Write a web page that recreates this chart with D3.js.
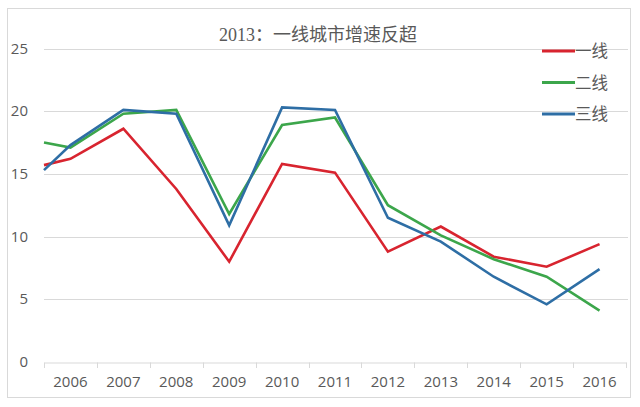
<!DOCTYPE html>
<html><head><meta charset="utf-8">
<script src="https://cdn.jsdelivr.net/npm/d3@7"></script>
<style>body{margin:0;background:#fff}svg{display:block}</style>
</head><body>
<script>
const categories = ["2006","2007","2008","2009","2010","2011","2012","2013","2014","2015","2016"];
// x positions of points: a starting point at the left edge, then each year
const xPoints = [2005.5,2006,2007,2008,2009,2010,2011,2012,2013,2014,2015,2016];
const tier1 = [15.7,16.2,18.6,13.8,8.0,15.8,15.1,8.8,10.8,8.4,7.6,9.4];
const tier2 = [17.5,17.1,19.8,20.1,11.8,18.9,19.5,12.5,10.1,8.2,6.8,4.1];
const tier3 = [15.3,17.3,20.1,19.8,10.9,20.3,20.1,11.5,9.6,6.8,4.6,7.4];
const seriesNames = ["一线","二线","三线"];
const seriesColors = ["#d8242f","#3ca64b","#2e6ea5"];
const yTicks = [0,5,10,15,20,25];
const title = "2013：一线城市增速反超";

(function(){
const W=640,H=407;
const svg=d3.select("body").append("svg").attr("width",W).attr("height",H);
svg.append("rect").attr("x",7.5).attr("y",8.5).attr("width",623).attr("height",389)
  .attr("fill","#fff").attr("stroke","#d9d9d9");

const pl=44,pr=626,pt=48.5,pb=362;
const y=d3.scaleLinear().domain([0,25]).range([pb,pt]);
const xb=d3.scaleBand().domain(categories).range([pl,pr]);
const xl=d3.scaleLinear().domain([2005.5,2016.5]).range([pl,pr]);

// gridlines
svg.append("g").selectAll("line").data(yTicks.filter(d=>d>0)).join("line")
  .attr("x1",pl).attr("x2",628).attr("y1",d=>Math.round(y(d))+0.5).attr("y2",d=>Math.round(y(d))+0.5)
  .attr("stroke","#d9d9d9").attr("stroke-width",1);

// y labels
svg.append("g").selectAll("text").data(yTicks).join("text")
  .attr("x",28).attr("y",d=>y(d)+5).attr("text-anchor","end")
  .attr("font-family","'Open Sans','Liberation Sans',sans-serif").attr("font-size",15)
  .attr("fill","#595959").text(d=>d);

// x axis
const xAxis=d3.axisBottom(xb).tickSize(0).tickPadding(14);
const gx=svg.append("g").attr("transform",`translate(0,${Math.round(pb)+0.5})`).call(xAxis);
gx.select(".domain").attr("stroke","#d9d9d9");
gx.selectAll("text").attr("font-family","'Open Sans','Liberation Sans',sans-serif").attr("font-size",15).attr("fill","#595959");
svg.append("g").selectAll("line").data(d3.range(categories.length+1)).join("line")
  .attr("x1",i=>Math.round(pl+i*xb.step())+0.5).attr("x2",i=>Math.round(pl+i*xb.step())+0.5)
  .attr("y1",Math.round(pb)+0.5).attr("y2",Math.round(pb)+6)
  .attr("stroke","#d9d9d9");

// lines
const line=d3.line().x((d,i)=>xl(xPoints[i])).y(d=>y(d));
[tier1,tier2,tier3].forEach((s,k)=>{
  svg.append("path").datum(s).attr("d",line).attr("fill","none")
    .attr("stroke",seriesColors[k]).attr("stroke-width",2.6).attr("stroke-linejoin","miter");
});

// title
svg.append("text").attr("x",318).attr("y",41).attr("text-anchor","middle")
  .attr("font-family","'Liberation Serif','Noto Sans CJK SC',serif").attr("font-size",18)
  .attr("fill","#595959").text(title);

// legend
const lg=svg.append("g");
seriesNames.forEach((n,k)=>{
  const ly=51+k*31.5;
  lg.append("line").attr("x1",542).attr("x2",575).attr("y1",ly).attr("y2",ly)
    .attr("stroke",seriesColors[k]).attr("stroke-width",3);
  lg.append("text").attr("x",575).attr("y",ly+6).attr("font-family","'Noto Sans CJK SC',sans-serif")
    .attr("font-size",16.5).attr("fill","#595959").text(n);
});
})();
</script>
</body></html>
